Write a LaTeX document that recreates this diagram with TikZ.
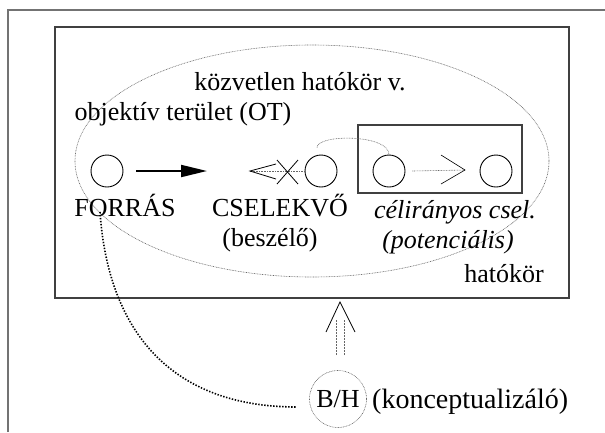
\documentclass[tikz,border=0pt]{standalone}
\usepackage{fontspec}
\setmainfont{Liberation Serif}
\usetikzlibrary{arrows.meta,shapes.geometric}
\begin{document}
\begin{tikzpicture}[x=1pt,y=-1pt,
  lbl/.style={inner sep=0pt,anchor=base,font=\fontsize{26}{30}\selectfont},
  ring/.style={draw,circle,minimum size=32pt,inner sep=0pt,line width=0.9pt},
  fine/.style={draw=black!60,line width=0.6pt,dash pattern=on 0.8pt off 0.8pt},
  heavy/.style={draw=black,line width=1.6pt,dash pattern=on 1.4pt off 1.6pt},
  frame/.style={draw=black!75,line width=1.2pt},
  stroke/.style={draw=black,line width=0.8pt}]
\useasboundingbox (0,0) rectangle (605,432);
% page frame
\draw[draw=black!55,line width=1.3pt] (8,432) -- (8,10) -- (605,10);
% scope rectangle and the objective area
\node[frame,rectangle,minimum width=514pt,minimum height=271pt,inner sep=0pt] (scope) at (312,162.5) {};
\node[fine,ellipse,minimum width=474pt,minimum height=232pt,inner sep=0pt] (ot) at (312,161) {};
% labels of the areas
\node[lbl] (lblnear) at (300,90) {közvetlen hatókör v.};
\node[lbl] (lblot) at (183,120) {objektív terület (OT)};
\node[lbl] (lblscope) at (504,282) {hatókör};
% box of the goal-directed action
\node[frame,rectangle,minimum width=164pt,minimum height=68pt,inner sep=0pt] (goalbox) at (440,159) {};
% participants
\node[ring] (src) at (107,171) {};
\node[ring] (agent) at (321,171) {};
\node[ring] (ga) at (389,171) {};
\node[ring] (gb) at (496,171) {};
\node[lbl] (lblsrc) at (125,216) {FORRÁS};
\node[lbl] (lblagent) at (280,216) {CSELEKVŐ};
\node[lbl] (lblspk) at (270,246) {(beszélő)};
\node[lbl] (lblgoal) at (455,218) {\itshape célirányos csel.};
\node[lbl] (lblpot) at (448,248) {\itshape (potenciális)};
% source to agent
\coordinate (arrs) at (136,171);
\coordinate (arre) at (207,171);
\draw[line width=2pt,-{Triangle[length=26pt,width=12pt]}] (arrs) -- (arre);
% blocked path from the agent
\coordinate (lt) at (250,171);
\draw[fine] (agent.west) -- (lt);
\draw[stroke] (276,164) -- (lt) -- (276,179);
\draw[stroke] (277,160) -- (298,184);
\draw[stroke] (277,184) -- (298,160);
% potential path inside the box
\coordinate (gt) at (465,170);
\draw[fine] (ga.east) ++(7,0) -- (gt);
\draw[stroke,line width=0.6pt] (441,155) -- (gt) -- (441,184);
% agent linked to the goal-directed action
\draw[fine] (agent.north) ++(-4,-7) .. controls (317,134) and (389,134) .. (ga.north);
% conceptualizer
\node[circle,fine,minimum size=57pt,inner sep=0pt,font=\fontsize{26}{30}\selectfont] (bh) at (338,399) {B/H};
\node[lbl,anchor=base west,font=\fontsize{28}{32}\selectfont] (lblbh) at (372,408) {(konceptualizáló)};
\coordinate (bhend) at (297,407);
\draw[heavy] (100,212) .. controls (108,330) and (170,407) .. (bhend);
% viewing arrow to the scope
\draw[fine,dash pattern=on 2pt off 1pt] (336,355) -- (336,320);
\draw[fine,dash pattern=on 2pt off 1pt] (344,355) -- (344,320);
\draw[stroke] (326,332) -- (340,302) -- (355,332);
\end{tikzpicture}
\end{document}
